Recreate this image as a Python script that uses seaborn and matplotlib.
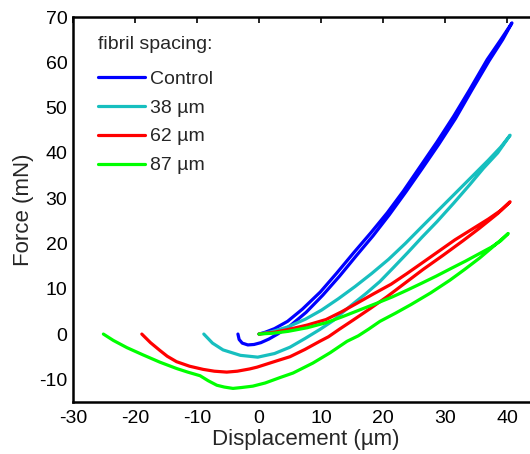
import matplotlib
matplotlib.use("Agg")
import matplotlib.pyplot as plt
import seaborn as sns
import pandas as pd

# ---- data ----
series_names = ["Control", "38 µm", "62 µm", "87 µm"]
series_colors = ["#0000ff", "#17bfbf", "#ff0000", "#00ff00"]

control_load_x = [0.0, 1.0, 2.5, 4.6, 7.0, 9.9, 12.5, 15.3, 18.0, 20.7, 23.3, 26.0, 28.7, 31.4, 34.0, 36.8, 39.0, 40.8]
control_load_y = [0.0, 0.4, 1.2, 2.8, 5.5, 9.3, 13.4, 18.0, 22.3, 26.8, 31.6, 37.0, 42.4, 48.1, 54.0, 60.6, 65.0, 68.7]
control_unload_x = [40.8, 39.3, 37.1, 34.3, 31.7, 29.0, 26.3, 23.7, 21.0, 18.4, 15.7, 13.0, 10.3, 7.6, 5.0, 3.0, 1.6, 0.3, -0.8, -1.8, -2.7, -3.2, -3.4]
control_unload_y = [68.7, 65.0, 60.3, 53.8, 47.6, 41.9, 36.5, 31.4, 26.3, 21.7, 17.3, 12.8, 8.6, 4.8, 1.8, 0.0, -1.1, -1.9, -2.3, -2.4, -2.0, -1.2, 0.0]

c38_load_x = [0.0, 2.0, 4.7, 7.5, 10.1, 12.8, 15.5, 18.2, 20.9, 23.6, 26.2, 28.9, 31.6, 34.3, 37.0, 39.0, 40.5]
c38_load_y = [0.0, 0.5, 1.6, 3.3, 5.3, 7.8, 10.5, 13.4, 16.5, 20.0, 23.6, 27.3, 31.0, 34.7, 38.4, 41.3, 43.9]
c38_unload_x = [40.5, 38.5, 36.2, 34.0, 31.4, 28.7, 26.3, 24.0, 21.7, 19.5, 17.3, 15.2, 13.5, 12.0, 9.8, 7.4, 5.0, 2.5, -0.2, -3.0, -5.8, -7.5, -8.9]
c38_unload_y = [43.9, 40.0, 36.6, 33.0, 28.9, 24.8, 21.4, 18.0, 14.7, 11.6, 9.0, 6.7, 4.8, 3.0, 1.0, -1.0, -2.9, -4.3, -5.1, -4.7, -3.5, -2.0, 0.0]

c62_load_x = [0.0, 2.5, 4.7, 7.8, 10.8, 13.3, 15.8, 18.5, 21.3, 23.8, 26.2, 28.9, 31.6, 34.3, 37.0, 39.0, 40.5]
c62_load_y = [0.0, 0.4, 1.0, 2.0, 3.2, 4.9, 6.8, 8.9, 11.0, 13.3, 15.6, 18.2, 20.8, 23.1, 25.4, 27.3, 29.2]
c62_unload_x = [40.5, 38.5, 35.5, 32.9, 29.7, 26.5, 23.5, 20.6, 17.9, 15.2, 13.0, 11.2, 9.8, 7.4, 5.0, 2.9, -0.3, -1.5, -3.5, -5.2, -7.2, -9.0, -11.2, -13.3, -14.8, -16.0, -17.5, -18.9]
c62_unload_y = [29.2, 26.6, 23.3, 20.6, 17.4, 14.3, 11.2, 8.2, 5.6, 3.1, 1.1, -0.6, -1.6, -3.4, -5.0, -5.9, -7.3, -7.7, -8.2, -8.4, -8.2, -7.8, -7.1, -6.1, -4.9, -3.6, -1.9, 0.0]

c87_load_x = [0.0, 2.4, 4.7, 7.8, 10.8, 13.4, 16.0, 18.8, 21.5, 23.9, 26.2, 28.6, 31.0, 33.3, 35.6, 37.5, 39.0, 40.2]
c87_load_y = [0.0, 0.2, 0.6, 1.4, 2.5, 3.8, 5.2, 6.7, 8.2, 9.7, 11.2, 12.8, 14.5, 16.1, 17.8, 19.2, 20.6, 22.2]
c87_unload_x = [40.2, 38.7, 37.5, 35.6, 33.2, 30.8, 27.7, 24.5, 22.0, 19.5, 17.7, 16.0, 14.2, 11.5, 8.7, 5.5, 3.4, 1.0, -1.0, -2.8, -4.2, -5.6, -6.8, -8.2, -9.5, -11.5, -13.3, -16.0, -18.7, -21.3, -23.5, -25.1]
c87_unload_y = [22.2, 20.4, 19.0, 16.8, 14.3, 11.9, 9.1, 6.5, 4.6, 2.8, 1.1, -0.4, -1.6, -4.1, -6.4, -8.6, -9.6, -10.8, -11.5, -11.8, -12.0, -11.7, -11.3, -10.3, -9.2, -8.4, -7.6, -6.2, -4.6, -3.0, -1.4, 0.0]

x_ticks = [-30, -20, -10, 0, 10, 20, 30, 40]
y_ticks = [-10, 0, 10, 20, 30, 40, 50, 60, 70]

# ---- build long table ----
rows = []
curves = [
    (control_load_x + control_unload_x, control_load_y + control_unload_y),
    (c38_load_x + c38_unload_x, c38_load_y + c38_unload_y),
    (c62_load_x + c62_unload_x, c62_load_y + c62_unload_y),
    (c87_load_x + c87_unload_x, c87_load_y + c87_unload_y),
]
for name, (xs, ys) in zip(series_names, curves):
    for i, (xv, yv) in enumerate(zip(xs, ys)):
        rows.append({"Displacement": xv, "Force": yv, "spacing": name, "order": i})
df = pd.DataFrame(rows)

sns.set_theme(style="white")
plt.rcParams["font.family"] = ["Liberation Sans", "DejaVu Sans"]
plt.rcParams["axes.unicode_minus"] = False

fig = plt.figure(figsize=(5.3, 4.54), dpi=100)
ax = fig.add_axes([73 / 530, 52 / 454, 465 / 530, 385 / 454])

sns.lineplot(data=df, x="Displacement", y="Force", hue="spacing",
             hue_order=series_names, palette=series_colors, sort=False,
             estimator=None, units="spacing", linewidth=2.3, ax=ax, legend=False)
for ln in ax.get_lines():
    ln.set_solid_joinstyle("round")
    ln.set_solid_capstyle("round")

ax.set_xlim(-30, 45)
ax.set_ylim(-15, 70)
ax.set_xticks(x_ticks)
ax.set_yticks(y_ticks)
ax.tick_params(direction="in", length=4.5, width=1.2, top=True, right=True,
               labelsize=14, colors="black")
ax.tick_params(axis="y", pad=4)
ax.tick_params(axis="x", pad=6)
for s in ax.spines.values():
    s.set_linewidth(1.8)
    s.set_color("black")
ax.set_xlabel("Displacement (µm)", fontsize=16, labelpad=1)
ax.set_ylabel("Force (mN)", fontsize=16, labelpad=4)

handles = ax.get_lines()[:4]
leg = ax.legend(handles, series_names, title="fibril spacing:", frameon=False,
                loc="upper left", bbox_to_anchor=(0.025, 0.985), fontsize=14,
                title_fontsize=14, handlelength=2.4, handletextpad=0.25,
                labelspacing=0.58, alignment="left", borderaxespad=0.3)
leg._legend_box.sep = 12

fig.savefig("out.png", dpi=100)
